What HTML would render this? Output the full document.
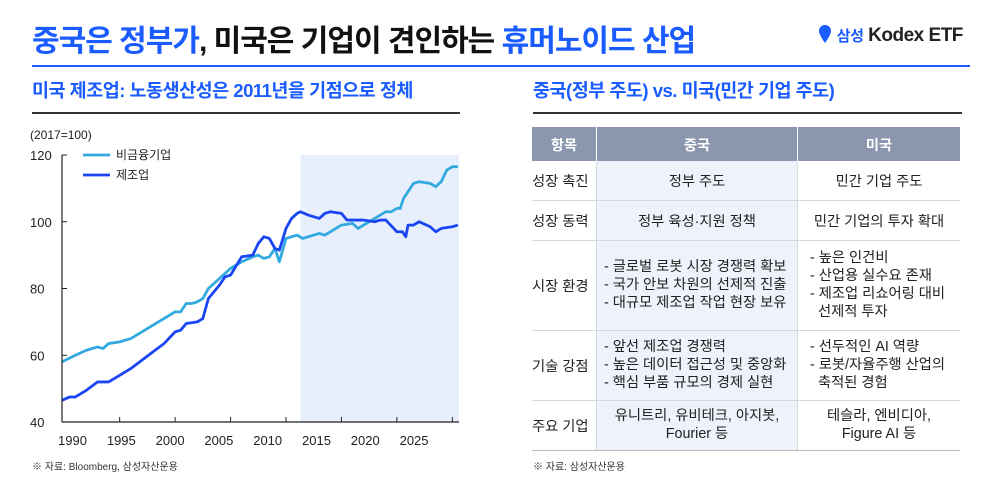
<!DOCTYPE html>
<html><head><meta charset="utf-8">
<style>
body{margin:0;width:1001px;height:488px;background:#fff;font-family:"Liberation Sans","Noto Sans CJK KR",sans-serif;position:relative;overflow:hidden;color:#222}
.abs{position:absolute}
.title{left:32px;top:16px;font-size:30px;font-weight:bold;letter-spacing:-1px;color:#111;white-space:nowrap}
.blue{color:#1a5cff}
.sub{font-size:18.5px;font-weight:bold;color:#1a5cff;top:77px;white-space:nowrap;letter-spacing:-0.5px}
table{border-collapse:collapse;font-size:14.3px;color:#222}
td,th{padding:0;text-align:center;vertical-align:middle}
th{background:#8b97af;color:#fff;font-weight:bold;height:34px;border-right:1px solid #fff}
td{border-bottom:1px solid #d5d9e2}
td.mid{background:#edf2fb;border-left:1px solid #d5d9e2;border-right:1px solid #d5d9e2}
td.l{text-align:left;padding-left:7px;line-height:18px}
td.r{padding-left:12px}
.foot{font-size:10px;color:#333;top:458px}
</style></head><body>
<div class="abs title"><span class="blue">중국은 정부가</span>, 미국은 기업이 견인하는 <span class="blue">휴머노이드 산업</span></div>
<div class="abs" style="left:818px;top:24px;font-size:19px;font-weight:bold;white-space:nowrap;letter-spacing:-0.5px">
<svg width="14" height="20" style="vertical-align:-3px"><path d="M7 1C3.5 1 1 3.6 1 7c0 4 6 12 6 12s6-8 6-12c0-3.4-2.5-6-6-6z" fill="#1a5cff"/></svg>
<span class="blue" style="font-size:15px">삼성</span> Kodex ETF</div>
<div class="abs" style="left:32px;top:65px;width:938px;height:2px;background:#1a5cff"></div>
<div class="abs sub" style="left:32px">미국 제조업: 노동생산성은 2011년을 기점으로 정체</div>
<div class="abs" style="left:32px;top:112px;width:428px;height:2px;background:#333"></div>
<div class="abs sub" style="left:533px">중국(정부 주도) vs. 미국(민간 기업 주도)</div>
<div class="abs" style="left:533px;top:112px;width:429px;height:2px;background:#333"></div>

<svg class="abs" style="left:0;top:0" width="480" height="488" id="chart"></svg>

<table class="abs" style="left:532px;top:127px;width:428px">
<tr style="height:34px"><th style="width:64px">항목</th><th style="width:200px">중국</th><th style="border-right:none">미국</th></tr>
<tr style="height:39px"><td style="text-align:left">성장 촉진</td><td class="mid">정부 주도</td><td>민간 기업 주도</td></tr>
<tr style="height:40px"><td style="text-align:left">성장 동력</td><td class="mid">정부 육성·지원 정책</td><td>민간 기업의 투자 확대</td></tr>
<tr style="height:90px"><td style="text-align:left">시장 환경</td><td class="mid l">- 글로벌 로봇 시장 경쟁력 확보<br>- 국가 안보 차원의 선제적 진출<br>- 대규모 제조업 작업 현장 보유</td><td class="l r">- 높은 인건비<br>- 산업용 실수요 존재<br>- 제조업 리쇼어링 대비<br>&nbsp;&nbsp;선제적 투자</td></tr>
<tr style="height:70px"><td style="text-align:left">기술 강점</td><td class="mid l">- 앞선 제조업 경쟁력<br>- 높은 데이터 접근성 및 중앙화<br>- 핵심 부품 규모의 경제 실현</td><td class="l r">- 선두적인 AI 역량<br>- 로봇/자율주행 산업의<br>&nbsp;&nbsp;축적된 경험</td></tr>
<tr style="height:50px"><td style="text-align:left;border-bottom:1px solid #bbb">주요 기업</td><td class="mid" style="line-height:18px;border-bottom:1px solid #bbb">유니트리, 유비테크, 아지봇,<br>Fourier 등</td><td style="line-height:18px;border-bottom:1px solid #bbb">테슬라, 엔비디아,<br>Figure AI 등</td></tr>
</table>
<div class="abs foot" style="left:32px">※ 자료: Bloomberg, 삼성자산운용</div>
<div class="abs foot" style="left:533px">※ 자료: 삼성자산운용</div>

<script>
const yTicks=[40,60,80,100,120];
const xTicks=[1995,2000,2005,2010,2015,2020,2025];
const xLabels=[1990,1995,2000,2005,2010,2015,2020,2025];
const nfYears=[1989.8,1991,1992,1993,1993.5,1994,1995,1996,1997,1998,1999,2000,2000.5,2001,2001.5,2002,2002.5,2003,2004,2005,2006,2007,2007.5,2008,2008.5,2009,2009.4,2010,2011,2011.5,2012,2013,2013.5,2014,2015,2016,2016.5,2017,2018,2019,2019.5,2020,2020.3,2020.6,2021,2021.5,2022,2023,2023.5,2024,2024.5,2025,2025.5];
const nfVals=[58,60,61.5,62.5,62,63.5,64,65,67,69,71,73,73,75.5,75.5,76,77,80,83,86,88,89.5,90,89,89.5,92,88,95,96,95,95.5,96.5,96,97,99,99.5,98,99,101,103,103,104,104,107,109,111.5,112,111.5,110.5,112,115.5,116.5,116.5];
const mfYears=[1989.8,1990.5,1991,1992,1993,1994,1995,1996,1997,1998,1999,2000,2000.5,2001,2002,2002.5,2003,2004,2004.5,2005,2006,2007,2007.5,2008,2008.5,2009,2009.4,2010,2010.5,2011,2011.3,2012,2013,2013.5,2014,2015,2015.5,2016,2017,2018,2018.5,2019,2020,2020.5,2020.8,2021,2021.5,2022,2023,2023.5,2024,2025,2025.5];
const mfVals=[46.5,47.5,47.5,49.5,52,52,54,56,58.5,61,63.5,67,67.5,69.5,70,71,77,81,83.5,84,89.5,90,93.5,95.5,95,92,91.5,98,101,102.5,103,102,101,102.5,103,102.5,100.5,100.5,100.5,100,100.5,100.5,97,97,95.5,99,99,100,98.5,97,98,98.5,99];
const shadeStart=2011.3;

const svg=document.getElementById('chart');
const NS='http://www.w3.org/2000/svg';
const X0=62,X1=459,Y0=422,Y1=155,xmin=1989.8,xmax=2025.6;
const xs=v=>X0+(v-xmin)/(xmax-xmin)*(X1-X0);
const ys=v=>Y0-(v-40)/(120-40)*(Y0-Y1);
function mk(t,a){const e=document.createElementNS(NS,t);for(const k in a)e.setAttribute(k,a[k]);svg.appendChild(e);return e;}
let sh=mk('rect',{x:xs(shadeStart),y:Y1,width:X1-xs(shadeStart),height:Y0-Y1,fill:'#e8effc'});


let t=mk('text',{x:30,y:139,'font-size':12,fill:'#222'});t.textContent='(2017=100)';


yTicks.forEach(v=>{const e=mk('text',{x:30,y:ys(v)+5,'font-size':13,fill:'#222'});e.textContent=v;


mk('line',{x1:X0,x2:X0+5,y1:ys(v),y2:ys(v),stroke:'#222','stroke-width':1});});
xTicks.forEach(v=>{mk('line',{x1:xs(v),x2:xs(v),y1:Y0,y2:Y0-5,stroke:'#222','stroke-width':1});});
xLabels.forEach(v=>{const e=mk('text',{x:16+0.88*xs(v),y:445,'font-size':13,'text-anchor':'middle',fill:'#222'});e.textContent=v;

});
function line(xa,va,c,name){const p=mk('polyline',{points:xa.map((x,i)=>xs(x)+','+ys(va[i])).join(' '),fill:'none',stroke:c,'stroke-width':2.8,'stroke-linejoin':'round'});

}
line(nfYears,nfVals,'#33aadf','series-nonfinancial');
line(mfYears,mfVals,'#1a45f5','series-manufacturing');
mk('line',{x1:X0,x2:X0,y1:Y1,y2:Y0,stroke:'#222','stroke-width':1.2});
mk('line',{x1:X0,x2:X1,y1:Y0,y2:Y0,stroke:'#222','stroke-width':1.2});
[['비금융기업','#33aadf',155],['제조업','#1a45f5',175]].forEach(l=>{
mk('line',{x1:83,x2:110,y1:l[2],y2:l[2],stroke:l[1],'stroke-width':2.8});
const e=mk('text',{x:116,y:l[2]+4,'font-size':12,fill:'#222'});e.textContent=l[0];

});
</script>
</body></html>
